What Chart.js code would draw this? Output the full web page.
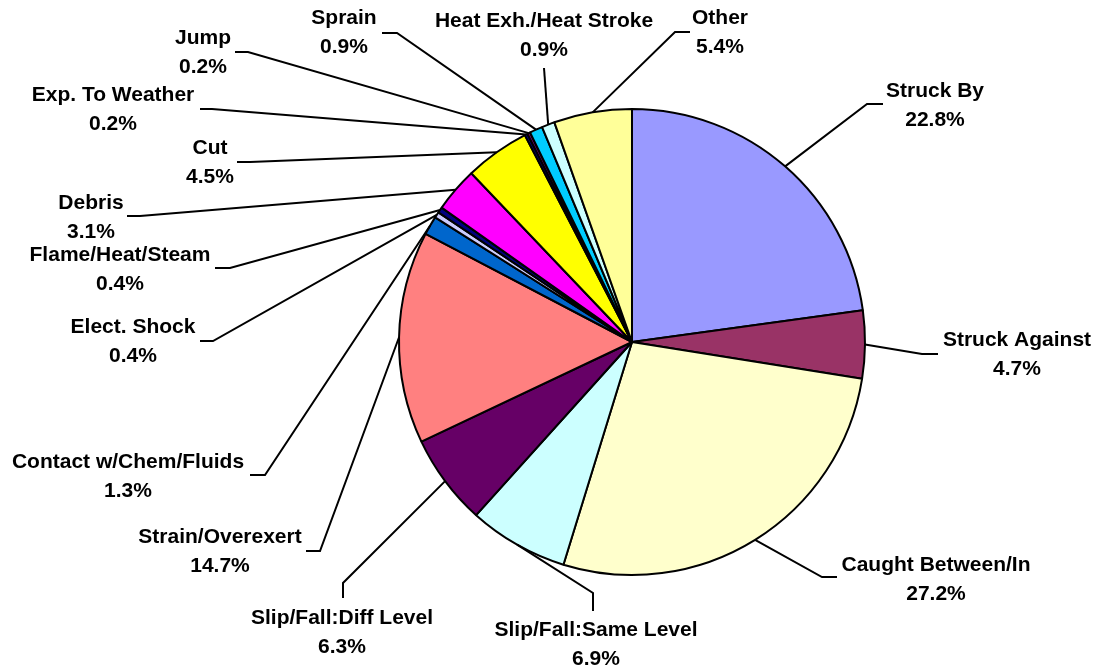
<!DOCTYPE html>
<html>
<head>
<meta charset="utf-8">
<script src="https://cdn.jsdelivr.net/npm/chart.js@4"></script>
<style>
  html, body { margin: 0; padding: 0; background: #fff; }
  canvas { display: block; }
</style>
</head>
<body>
<canvas id="myChart" width="1095" height="666"></canvas>
<script>
// categories, clockwise from 12 o'clock
const categories = [
    'Struck By', 'Struck Against', 'Caught Between/In', 'Slip/Fall:Same Level',
    'Slip/Fall:Diff Level', 'Strain/Overexert', 'Contact w/Chem/Fluids', 'Elect. Shock',
    'Flame/Heat/Steam', 'Debris', 'Cut', 'Exp. To Weather',
    'Jump', 'Sprain', 'Heat Exh./Heat Stroke', 'Other'
];
// share of injuries, percent
const shares = [22.8, 4.7, 27.2, 6.9, 6.3, 14.7, 1.3, 0.4, 0.4, 3.1, 4.5, 0.2, 0.2, 0.9, 0.9, 5.4];

const sliceColors = [
    '#9999FF', '#993366', '#FFFFCC', '#CCFFFF', '#660066', '#FF8080', '#0066CC', '#CCCCFF',
    '#000080', '#FF00FF', '#FFFF00', '#000080', '#800080', '#00CCFF', '#CCFFFF', '#FFFF99'
];

// where each label sits (text centre of first line) and how its leader line bends
// tx,ty = text; ex,ey = elbow; lx,ly = end of leader next to the text
const labelLayout = [
    { tx: 935, ty: 91, ex: 867, ey: 104, lx: 883, ly: 104 },
    { tx: 1017, ty: 340, ex: 922, ey: 354, lx: 938, ly: 354 },
    { tx: 936, ty: 565, ex: 822, ey: 577, lx: 837, ly: 577 },
    { tx: 596, ty: 630, ex: 593, ey: 593, lx: 593, ly: 611 },
    { tx: 342, ty: 618, ex: 343, ey: 583, lx: 343, ly: 598 },
    { tx: 220, ty: 537, ex: 320, ey: 551, lx: 306, ly: 551 },
    { tx: 128, ty: 462, ex: 265, ey: 475, lx: 250, ly: 475 },
    { tx: 133, ty: 327, ex: 213, ey: 341, lx: 200, ly: 341 },
    { tx: 120, ty: 255, ex: 230, ey: 268, lx: 215, ly: 268 },
    { tx: 91, ty: 203, ex: 140, ey: 216, lx: 127, ly: 216 },
    { tx: 210, ty: 148, ex: 250, ey: 162, lx: 237, ly: 162 },
    { tx: 113, ty: 95, ex: 212, ey: 109, lx: 200, ly: 109 },
    { tx: 203, ty: 38, ex: 248, ey: 52, lx: 235, ly: 52 },
    { tx: 344, ty: 18, ex: 397, ey: 33, lx: 382, ly: 33 },
    { tx: 544, ty: 21, ex: 544, ey: 68, lx: 544, ly: 68 },
    { tx: 720, ty: 18, ex: 675, ey: 32, lx: 690, ly: 32 }
];

const lineGap = 29;

const outsideLabels = {
    id: 'outsideLabels',
    afterDatasetsDraw(chart) {
        const ctx = chart.ctx;
        const arcs = chart.getDatasetMeta(0).data;
        ctx.save();
        ctx.strokeStyle = '#000';
        ctx.lineWidth = 2;
        arcs.forEach((arc, i) => {
            const p = arc.getProps(['x', 'y', 'startAngle', 'endAngle', 'outerRadius'], true);
            const mid = (p.startAngle + p.endAngle) / 2;
            const sx = p.x + Math.cos(mid) * p.outerRadius;
            const sy = p.y + Math.sin(mid) * p.outerRadius;
            const l = labelLayout[i];
            ctx.beginPath();
            ctx.moveTo(sx, sy);
            ctx.lineTo(l.ex, l.ey);
            ctx.lineTo(l.lx, l.ly);
            ctx.stroke();
        });
        ctx.fillStyle = '#000';
        ctx.font = 'bold 21px "Liberation Sans", Arial, sans-serif';
        ctx.textAlign = 'center';
        ctx.textBaseline = 'middle';
        categories.forEach((name, i) => {
            const l = labelLayout[i];
            ctx.fillText(name, l.tx, l.ty);
            ctx.fillText(shares[i].toFixed(1) + '%', l.tx, l.ty + lineGap);
        });
        ctx.restore();
    }
};

document.addEventListener('DOMContentLoaded', () => {
    const ctx = document.getElementById('myChart').getContext('2d');
    new Chart(ctx, {
        type: 'pie',
        data: {
            labels: categories,
            datasets: [{
                data: shares,
                backgroundColor: sliceColors,
                borderColor: '#000',
                borderWidth: 2
            }]
        },
        options: {
            responsive: false,
            animation: false,
            layout: {
                padding: { left: 398, top: 108, right: 229, bottom: 90 }
            },
            plugins: {
                legend: { display: false },
                tooltip: { enabled: false }
            }
        },
        plugins: [outsideLabels]
    });
});
</script>
</body>
</html>
